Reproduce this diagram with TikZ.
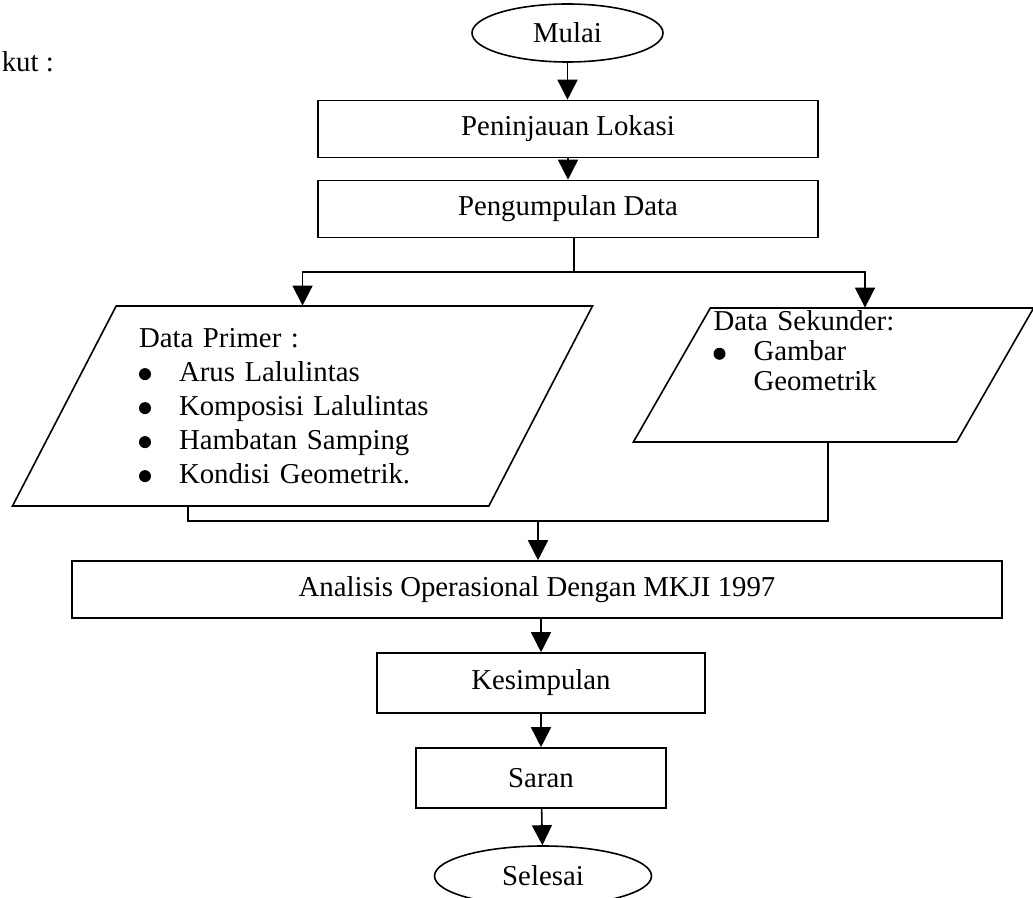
\documentclass[tikz,border=0pt]{standalone}
\usepackage{fontspec}
\setmainfont{Liberation Serif}
\usetikzlibrary{arrows.meta, shapes.geometric}

\newcommand\itm[1]{\makebox[20pt][l]{\tikz[baseline=0pt]\fill (0pt,3.6pt) circle (3pt);}#1}

\begin{document}
\begin{tikzpicture}[
  x=0.5pt, y=-0.5pt,
  font=\fontsize{14.4pt}{17pt}\selectfont,
  line width=0.8pt, >={Triangle[length=10pt, width=10pt]},
  box/.style={draw, rectangle, minimum height=28.5pt, inner sep=2pt},
  term/.style={draw, ellipse, minimum height=29pt, inner sep=1pt},
  datab/.style={draw, trapezium, trapezium left angle=60, trapezium right angle=120,
                trapezium stretches=true, align=left, inner sep=1pt},
  conn/.style={draw},
  arr/.style={->},
]
\useasboundingbox (0,0) rectangle (1033,898);

% ---- text left over from the page ----
\node[anchor=base west, inner sep=0pt] (kut) at (1,72) {kut :};

% ---- top of the flow ----
\node[term, minimum width=95.5pt] (mulai) at (567.5,33) {Mulai};
\node[box, minimum width=250pt] (pen)  at (568,129) {Peninjauan Lokasi};
\node[box, minimum width=250pt] (peng) at (568,209) {Pengumpulan Data};

% ---- the two kinds of data ----
\node[datab, minimum width=290.5pt, minimum height=100pt, text width=163.5pt] (prim) at (302.5,406)
  {Data Primer :\\ \itm{Arus Lalulintas}\\ \itm{Komposisi Lalulintas}\\ \itm{Hambatan Samping}\\ \itm{Kondisi Geometrik.}};
\node[datab, minimum width=200.5pt, minimum height=67pt, text width=120pt,
      font=\fontsize{14.4pt}{15pt}\selectfont] (sek) at (833.5,375)
  {Data Sekunder:\\ \itm{Gambar}\\ \hspace*{20pt}Geometrik\rule[-24pt]{0pt}{0pt}};

% ---- analysis and the end ----
\node[box, minimum width=465pt] (ana) at (537,589.5) {Analisis Operasional Dengan MKJI 1997};
\node[box, minimum width=164pt, minimum height=30pt] (kes) at (541,683) {Kesimpulan};
\node[box, minimum width=125pt, minimum height=30pt] (sar) at (541,778) {Saran};
\node[term, minimum width=108.5pt, minimum height=30pt] (sel) at (543,876) {Selesai};

% ---- connectors ----
\draw[arr] (mulai.south) -- (mulai.south |- pen.north);
\draw[arr] (pen.south) -- (pen.south |- peng.north);

\coordinate (fork)  at (574,272);
\coordinate (forkR) at (865,272);
\draw[conn] (fork |- peng.south) -- (fork);
\draw[arr] (fork) -| (prim.north);
\draw[arr] (fork) -- (forkR) -- (forkR |- sek.north);

\coordinate (joinL) at (188,521);
\coordinate (joinR) at (828,521);
\coordinate (join)  at (538,521);
\draw[conn] (joinL |- prim.south) -- (joinL) -- (joinR) -- (joinR |- sek.south);
\draw[arr] (join) -- (join |- ana.north);

\draw[arr] (ana.south -| kes) -- (kes);
\draw[arr] (kes) -- (sar);
\draw[arr] (sar) -- (sel);

\end{tikzpicture}
\end{document}
